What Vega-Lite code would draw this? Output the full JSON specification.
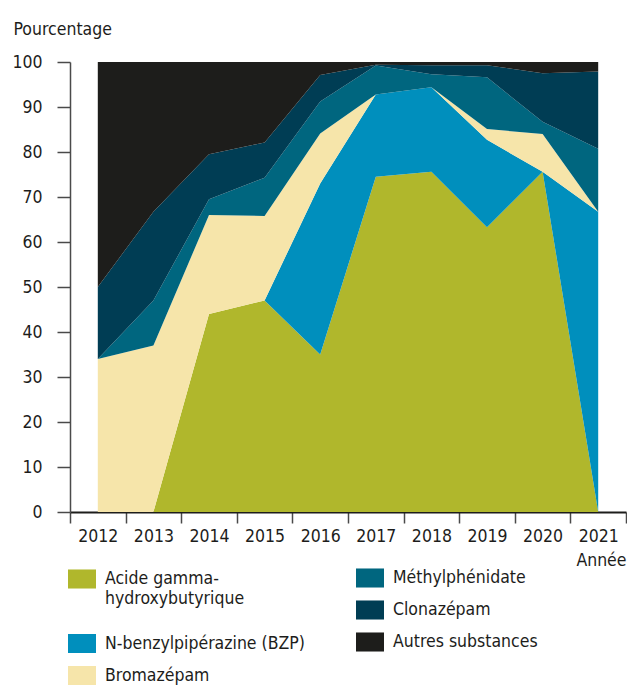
{
  "$schema": "https://vega.github.io/schema/vega-lite/v6.json",
  "width": 556,
  "height": 450,
  "autosize": {"type": "none"},
  "padding": {"left": 70, "top": 62, "right": 1, "bottom": 186},
  "background": "white",
  "config": {
    "font": "DejaVu Sans Condensed, sans-serif",
    "view": {"stroke": null},
    "axis": {"labelFontSize": 17.5, "labelColor": "#1d1d1b", "titleFontSize": 17.5, "titleFontWeight": "normal", "titleColor": "#1d1d1b", "grid": false},
    "legend": {
      "labelFontSize": 17.5,
      "labelColor": "#1d1d1b",
      "labelLimit": 400,
      "labelLineHeight": 22,
      "symbolType": "M-1,-0.68H1V0.68H-1Z",
      "symbolSize": 784,
      "symbolStrokeWidth": 0,
      "symbolOpacity": 1,
      "labelOffset": 9,
      "rowPadding": 8,
      "padding": 0,
      "title": null
    }
  },
  "data": {
    "values": [
      {"annee": "2012", "substance": "Acide gamma-hydroxybutyrique", "groupe": "A", "ordre": 1, "valeur": 0},
      {"annee": "2012", "substance": "N-benzylpipérazine (BZP)", "groupe": "B", "ordre": 2, "valeur": 0},
      {"annee": "2012", "substance": "Bromazépam", "groupe": "B", "ordre": 3, "valeur": 34},
      {"annee": "2012", "substance": "Méthylphénidate", "groupe": "C", "ordre": 4, "valeur": 0},
      {"annee": "2012", "substance": "Clonazépam", "groupe": "C", "ordre": 5, "valeur": 16},
      {"annee": "2012", "substance": "Autres substances", "groupe": "C", "ordre": 6, "valeur": 50},
      {"annee": "2013", "substance": "Acide gamma-hydroxybutyrique", "groupe": "A", "ordre": 1, "valeur": 0},
      {"annee": "2013", "substance": "N-benzylpipérazine (BZP)", "groupe": "B", "ordre": 2, "valeur": 0},
      {"annee": "2013", "substance": "Bromazépam", "groupe": "B", "ordre": 3, "valeur": 37},
      {"annee": "2013", "substance": "Méthylphénidate", "groupe": "C", "ordre": 4, "valeur": 10},
      {"annee": "2013", "substance": "Clonazépam", "groupe": "C", "ordre": 5, "valeur": 19.7},
      {"annee": "2013", "substance": "Autres substances", "groupe": "C", "ordre": 6, "valeur": 33.3},
      {"annee": "2014", "substance": "Acide gamma-hydroxybutyrique", "groupe": "A", "ordre": 1, "valeur": 44},
      {"annee": "2014", "substance": "N-benzylpipérazine (BZP)", "groupe": "B", "ordre": 2, "valeur": 0},
      {"annee": "2014", "substance": "Bromazépam", "groupe": "B", "ordre": 3, "valeur": 22},
      {"annee": "2014", "substance": "Méthylphénidate", "groupe": "C", "ordre": 4, "valeur": 3.5},
      {"annee": "2014", "substance": "Clonazépam", "groupe": "C", "ordre": 5, "valeur": 10},
      {"annee": "2014", "substance": "Autres substances", "groupe": "C", "ordre": 6, "valeur": 20.5},
      {"annee": "2015", "substance": "Acide gamma-hydroxybutyrique", "groupe": "A", "ordre": 1, "valeur": 47},
      {"annee": "2015", "substance": "N-benzylpipérazine (BZP)", "groupe": "B", "ordre": 2, "valeur": 0},
      {"annee": "2015", "substance": "Bromazépam", "groupe": "B", "ordre": 3, "valeur": 18.8},
      {"annee": "2015", "substance": "Méthylphénidate", "groupe": "C", "ordre": 4, "valeur": 8.5},
      {"annee": "2015", "substance": "Clonazépam", "groupe": "C", "ordre": 5, "valeur": 7.8},
      {"annee": "2015", "substance": "Autres substances", "groupe": "C", "ordre": 6, "valeur": 17.9},
      {"annee": "2016", "substance": "Acide gamma-hydroxybutyrique", "groupe": "A", "ordre": 1, "valeur": 35},
      {"annee": "2016", "substance": "N-benzylpipérazine (BZP)", "groupe": "B", "ordre": 2, "valeur": 38},
      {"annee": "2016", "substance": "Bromazépam", "groupe": "B", "ordre": 3, "valeur": 11.1},
      {"annee": "2016", "substance": "Méthylphénidate", "groupe": "C", "ordre": 4, "valeur": 7.1},
      {"annee": "2016", "substance": "Clonazépam", "groupe": "C", "ordre": 5, "valeur": 5.9},
      {"annee": "2016", "substance": "Autres substances", "groupe": "C", "ordre": 6, "valeur": 2.9},
      {"annee": "2017", "substance": "Acide gamma-hydroxybutyrique", "groupe": "A", "ordre": 1, "valeur": 74.5},
      {"annee": "2017", "substance": "N-benzylpipérazine (BZP)", "groupe": "B", "ordre": 2, "valeur": 18.3},
      {"annee": "2017", "substance": "Bromazépam", "groupe": "B", "ordre": 3, "valeur": 0},
      {"annee": "2017", "substance": "Méthylphénidate", "groupe": "C", "ordre": 4, "valeur": 6.4},
      {"annee": "2017", "substance": "Clonazépam", "groupe": "C", "ordre": 5, "valeur": 0.2},
      {"annee": "2017", "substance": "Autres substances", "groupe": "C", "ordre": 6, "valeur": 0.6},
      {"annee": "2018", "substance": "Acide gamma-hydroxybutyrique", "groupe": "A", "ordre": 1, "valeur": 75.6},
      {"annee": "2018", "substance": "N-benzylpipérazine (BZP)", "groupe": "B", "ordre": 2, "valeur": 18.8},
      {"annee": "2018", "substance": "Bromazépam", "groupe": "B", "ordre": 3, "valeur": 0},
      {"annee": "2018", "substance": "Méthylphénidate", "groupe": "C", "ordre": 4, "valeur": 2.9},
      {"annee": "2018", "substance": "Clonazépam", "groupe": "C", "ordre": 5, "valeur": 2},
      {"annee": "2018", "substance": "Autres substances", "groupe": "C", "ordre": 6, "valeur": 0.7},
      {"annee": "2019", "substance": "Acide gamma-hydroxybutyrique", "groupe": "A", "ordre": 1, "valeur": 63.3},
      {"annee": "2019", "substance": "N-benzylpipérazine (BZP)", "groupe": "B", "ordre": 2, "valeur": 19.4},
      {"annee": "2019", "substance": "Bromazépam", "groupe": "B", "ordre": 3, "valeur": 2.4},
      {"annee": "2019", "substance": "Méthylphénidate", "groupe": "C", "ordre": 4, "valeur": 11.5},
      {"annee": "2019", "substance": "Clonazépam", "groupe": "C", "ordre": 5, "valeur": 2.7},
      {"annee": "2019", "substance": "Autres substances", "groupe": "C", "ordre": 6, "valeur": 0.7},
      {"annee": "2020", "substance": "Acide gamma-hydroxybutyrique", "groupe": "A", "ordre": 1, "valeur": 75.6},
      {"annee": "2020", "substance": "N-benzylpipérazine (BZP)", "groupe": "B", "ordre": 2, "valeur": 0},
      {"annee": "2020", "substance": "Bromazépam", "groupe": "B", "ordre": 3, "valeur": 8.4},
      {"annee": "2020", "substance": "Méthylphénidate", "groupe": "C", "ordre": 4, "valeur": 2.7},
      {"annee": "2020", "substance": "Clonazépam", "groupe": "C", "ordre": 5, "valeur": 10.8},
      {"annee": "2020", "substance": "Autres substances", "groupe": "C", "ordre": 6, "valeur": 2.5},
      {"annee": "2021", "substance": "Acide gamma-hydroxybutyrique", "groupe": "A", "ordre": 1, "valeur": 0},
      {"annee": "2021", "substance": "N-benzylpipérazine (BZP)", "groupe": "B", "ordre": 2, "valeur": 66.7},
      {"annee": "2021", "substance": "Bromazépam", "groupe": "B", "ordre": 3, "valeur": 0},
      {"annee": "2021", "substance": "Méthylphénidate", "groupe": "C", "ordre": 4, "valeur": 14},
      {"annee": "2021", "substance": "Clonazépam", "groupe": "C", "ordre": 5, "valeur": 17.2},
      {"annee": "2021", "substance": "Autres substances", "groupe": "C", "ordre": 6, "valeur": 2.1}
    ]
  },
  "transform": [
    {"stack": "valeur", "groupby": ["annee"], "sort": [{"field": "ordre", "order": "ascending"}], "as": ["v0", "v1"]}
  ],
  "encoding": {
    "x": {
      "field": "annee",
      "type": "ordinal",
      "bandPosition": 0.5,
      "scale": {"type": "band", "paddingInner": 0, "paddingOuter": 0},
      "axis": {
        "title": "Année",
        "titleAnchor": "end",
        "titleAlign": "right",
        "titleBaseline": "alphabetic",
        "titleX": 556,
        "titleY": 53,
        "labelAngle": 0,
        "tickBand": "extent",
        "tickSize": 11,
        "tickColor": "#4a4a4a",
        "tickWidth": 1.5,
        "domainColor": "#1d1d1b",
        "domainWidth": 2,
        "labelPadding": 4
      }
    },
    "y": {
      "field": "v1",
      "type": "quantitative",
      "scale": {"domain": [0, 100], "nice": false},
      "axis": {
        "title": "Pourcentage",
        "titleAngle": 0,
        "titleAlign": "left",
        "titleAnchor": "start",
        "titleBaseline": "alphabetic",
        "titleX": -57,
        "titleY": -28,
        "values": [0, 10, 20, 30, 40, 50, 60, 70, 80, 90, 100],
        "tickSize": 13,
        "tickColor": "#4a4a4a",
        "tickWidth": 1.5,
        "domainColor": "#4a4a4a",
        "domainWidth": 1.5,
        "labelPadding": 15
      }
    },
    "y2": {"field": "v0"}
  },
  "layer": [
    {
      "transform": [{"filter": "datum.groupe == 'A'"}],
      "mark": {"type": "area", "opacity": 1},
      "encoding": {
        "color": {
          "field": "substance",
          "type": "nominal",
          "scale": {"domain": ["Acide gamma-hydroxybutyrique"], "range": ["#b0b72c"]},
          "legend": {
            "orient": "none",
            "legendX": -2,
            "legendY": 503,
            "labelExpr": "['Acide gamma-', 'hydroxybutyrique']"
          }
        }
      }
    },
    {
      "transform": [{"filter": "datum.groupe == 'B'"}],
      "mark": {"type": "area", "opacity": 1},
      "encoding": {
        "color": {
          "field": "substance",
          "type": "nominal",
          "scale": {"domain": ["N-benzylpipérazine (BZP)", "Bromazépam"], "range": ["#008fbd", "#f6e5aa"]},
          "legend": {"orient": "none", "legendX": -2, "legendY": 567.5}
        }
      }
    },
    {
      "transform": [{"filter": "datum.groupe == 'C'"}],
      "mark": {"type": "area", "opacity": 1},
      "encoding": {
        "color": {
          "field": "substance",
          "type": "nominal",
          "scale": {"domain": ["Méthylphénidate", "Clonazépam", "Autres substances"], "range": ["#00667f", "#003d54", "#1d1d1b"]},
          "legend": {"orient": "none", "legendX": 286, "legendY": 502}
        }
      }
    }
  ],
  "resolve": {"scale": {"color": "independent"}}
}
